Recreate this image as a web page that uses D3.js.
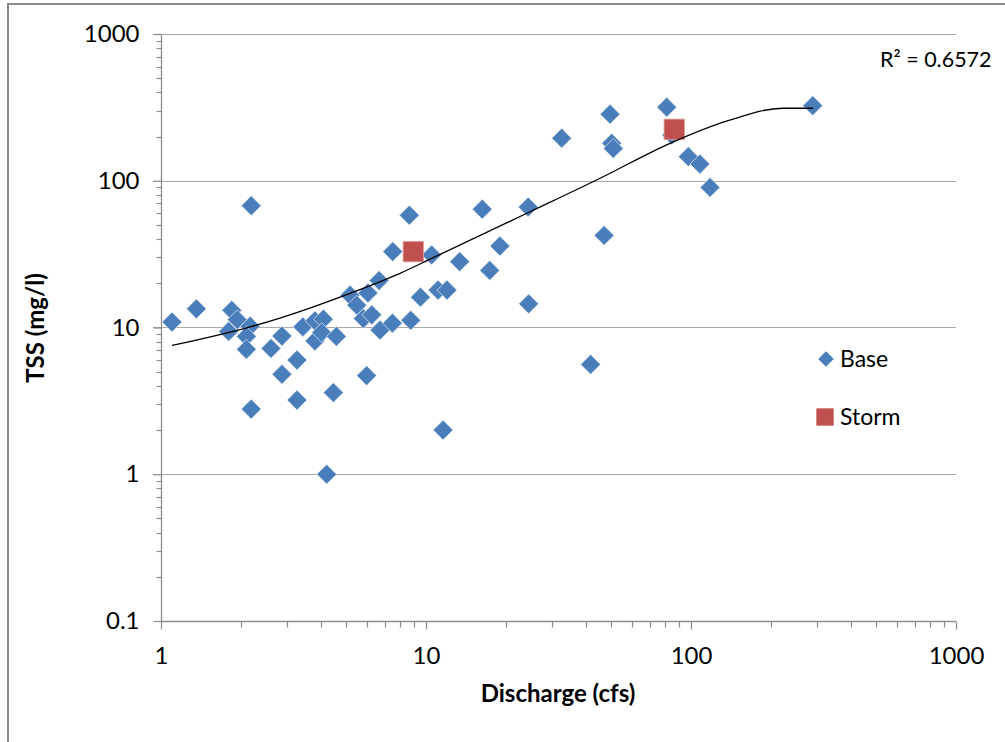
<!DOCTYPE html>
<html>
<head>
<meta charset="utf-8">
<script src="https://cdn.jsdelivr.net/npm/d3@7"></script>
<style>
  html, body { margin: 0; padding: 0; background: #fff; }
  svg { display: block; }
  text { font-family: Lato, "Open Sans", sans-serif; fill: #000; }
</style>
</head>
<body>
<svg id="chart" width="1005" height="742"></svg>
<script>
// ---------- data ----------
const baseQ = [1.1, 1.36, 1.85, 1.94, 1.8, 2.17, 2.1, 2.1, 2.19, 2.19,
  2.86, 2.6, 3.26, 2.86, 3.26, 3.43, 3.81, 4.1, 3.81, 4.04,
  4.59, 4.47, 5.97, 4.22, 11.6, 5.17, 5.48, 6.04, 6.65, 5.8,
  6.24, 6.71, 7.47, 8.76, 9.53, 11.1, 12.0, 8.65, 7.49, 10.5,
  16.3, 24.3, 19.0, 13.4, 17.4, 24.4, 47.0, 41.8, 32.5, 49.5,
  50.2, 50.9, 81.0, 84.6, 97.7, 108, 118, 288];
const baseTSS = [10.9, 13.4, 13.1, 11.3, 9.4, 10.2, 8.7, 7.1, 67.6, 2.78,
  8.75, 7.2, 6.0, 4.8, 3.2, 10.1, 11.1, 11.4, 8.1, 9.25,
  8.7, 3.6, 4.7, 1.0, 2.0, 16.6, 14.2, 17.2, 20.9, 11.5,
  12.2, 9.6, 10.7, 11.2, 16.1, 18.0, 18.0, 58.2, 32.9, 31.2,
  64.0, 66.2, 35.9, 28.1, 24.5, 14.5, 42.4, 5.6, 195, 284,
  180, 166, 317, 205, 146, 130, 90, 325];
const stormQ = [8.96, 86.5];
const stormTSS = [32.9, 224];
// trendline
const trendQ = [1.1, 2.17, 2.81, 5.17, 7.98, 10.6, 24.7, 45.4, 83.3, 140, 222, 289];
const trendTSS = [7.54, 10.1, 11.6, 17.1, 23.4, 29.8, 61.5, 104, 180, 259, 312, 312];
const xTickValues = [1, 10, 100, 1000];
const xTickLabels = ["1", "10", "100", "1000"];
const yTickValues = [0.1, 1, 10, 100, 1000];
const yTickLabels = ["0.1", "1", "10", "100", "1000"];
const legendLabels = ["Base", "Storm"];
const rSquaredLabel = "R² = 0.6572";
const xTitle = "Discharge (cfs)";
const yTitle = "TSS (mg/l)";

// ---------- layout ----------
const svg = d3.select("#chart");
const plot = { left: 161, right: 956, top: 34, bottom: 621 };
const blue = "#4a7ebb", red = "#c0504d";
const axisColor = "#8c8c8c", gridColor = "#a8a8a8";

const x = d3.scaleLog().domain([1, 1000]).range([plot.left, plot.right]);
const y = d3.scaleLog().domain([0.1, 1000]).range([plot.bottom, plot.top]);

// outer chart border
svg.append("path")
  .attr("d", `M8,742 L8,4 L1005,4`)
  .attr("fill", "none").attr("stroke", "#8a8a8a").attr("stroke-width", 2);

// gridlines
const g = svg.append("g");
g.selectAll("line.grid").data(yTickValues.filter(v => v > 0.1))
  .join("line").attr("class", "grid")
  .attr("x1", plot.left - 8).attr("x2", plot.right)
  .attr("y1", d => Math.round(y(d)) + 0.5).attr("y2", d => Math.round(y(d)) + 0.5)
  .attr("stroke", gridColor).attr("stroke-width", 1.2);

// minor ticks
const minors = [];
for (let e = -1; e < 3; e++) for (let m = 2; m <= 9; m++) minors.push(m * Math.pow(10, e));
const xMinors = [];
for (let e = 0; e < 3; e++) for (let m = 2; m <= 9; m++) xMinors.push(m * Math.pow(10, e));

// y axis
const yAxis = d3.axisLeft(y).tickValues(yTickValues)
  .tickFormat((d, i) => yTickLabels[i]).tickSize(8).tickPadding(14);
const ya = svg.append("g").attr("transform", `translate(${plot.left + 0.5},0)`).call(yAxis);
ya.selectAll("g.minor").data(minors).join("g").attr("class", "minor")
  .append("line").attr("x1", -5).attr("x2", 0)
  .attr("y1", d => Math.round(y(d)) + 0.5).attr("y2", d => Math.round(y(d)) + 0.5);

// x axis
const xAxis = d3.axisBottom(x).tickValues(xTickValues)
  .tickFormat((d, i) => xTickLabels[i]).tickSize(8).tickPadding(17);
const xa = svg.append("g").attr("transform", `translate(0,${plot.bottom + 0.5})`).call(xAxis);
xa.selectAll("g.minor").data(xMinors).join("g").attr("class", "minor")
  .append("line").attr("y1", 0).attr("y2", 6)
  .attr("x1", d => Math.round(x(d)) + 0.5).attr("x2", d => Math.round(x(d)) + 0.5);

[ya, xa].forEach(a => {
  a.select(".domain").attr("stroke", axisColor).attr("stroke-width", 1.3);
  a.selectAll("line").attr("stroke", axisColor).attr("stroke-width", 1.2);
  a.selectAll(".tick text").attr("font-size", 24).attr("font-family", "Lato, sans-serif").attr("fill", "#000");
});
ya.select(".domain").attr("d", `M0,${plot.top}V${plot.bottom}`);
xa.select(".domain").attr("d", `M${plot.left},0H${plot.right}`);

// axis titles
svg.append("text").attr("x", 558).attr("y", 702)
  .attr("text-anchor", "middle").attr("font-size", 24).attr("font-weight", "bold")
  .text(xTitle);
svg.append("text").attr("transform", "translate(44,328) rotate(-90)")
  .attr("text-anchor", "middle").attr("font-size", 24).attr("font-weight", "bold")
  .text(yTitle);

// base points
const diamond = d3.symbol(d3.symbolSquare, 195)();
svg.append("g").selectAll("path").data(baseQ.map((q, i) => [q, baseTSS[i]]))
  .join("path")
  .attr("d", diamond)
  .attr("transform", d => `translate(${x(d[0])},${y(d[1])}) rotate(45)`)
  .attr("fill", blue).attr("stroke", "#dfe8f4").attr("stroke-width", 0.7);

// storm points
const square = d3.symbol(d3.symbolSquare, 420)();
svg.append("g").selectAll("path").data(stormQ.map((q, i) => [q, stormTSS[i]]))
  .join("path")
  .attr("d", square)
  .attr("transform", d => `translate(${x(d[0])},${y(d[1])})`)
  .attr("fill", red).attr("stroke", "#e0a6a4").attr("stroke-width", 0.8);

// trendline
const line = d3.line().x(d => x(d[0])).y(d => y(d[1])).curve(d3.curveMonotoneX);
svg.append("path").datum(trendQ.map((q, i) => [q, trendTSS[i]]))
  .attr("d", line).attr("fill", "none").attr("stroke", "#000").attr("stroke-width", 1.3);

// R^2 label
svg.append("text").attr("x", 880).attr("y", 67).attr("font-size", 21.5).text(rSquaredLabel);

// legend
const lg = svg.append("g");
lg.append("path").attr("d", d3.symbol(d3.symbolSquare, 120)())
  .attr("transform", "translate(826,359) rotate(45)").attr("fill", blue);
lg.append("path").attr("d", d3.symbol(d3.symbolSquare, 300)())
  .attr("transform", "translate(825,417)").attr("fill", red);
lg.append("text").attr("x", 840).attr("y", 367).attr("font-size", 23).text(legendLabels[0]);
lg.append("text").attr("x", 840).attr("y", 425).attr("font-size", 23).text(legendLabels[1]);
</script>
</body>
</html>
